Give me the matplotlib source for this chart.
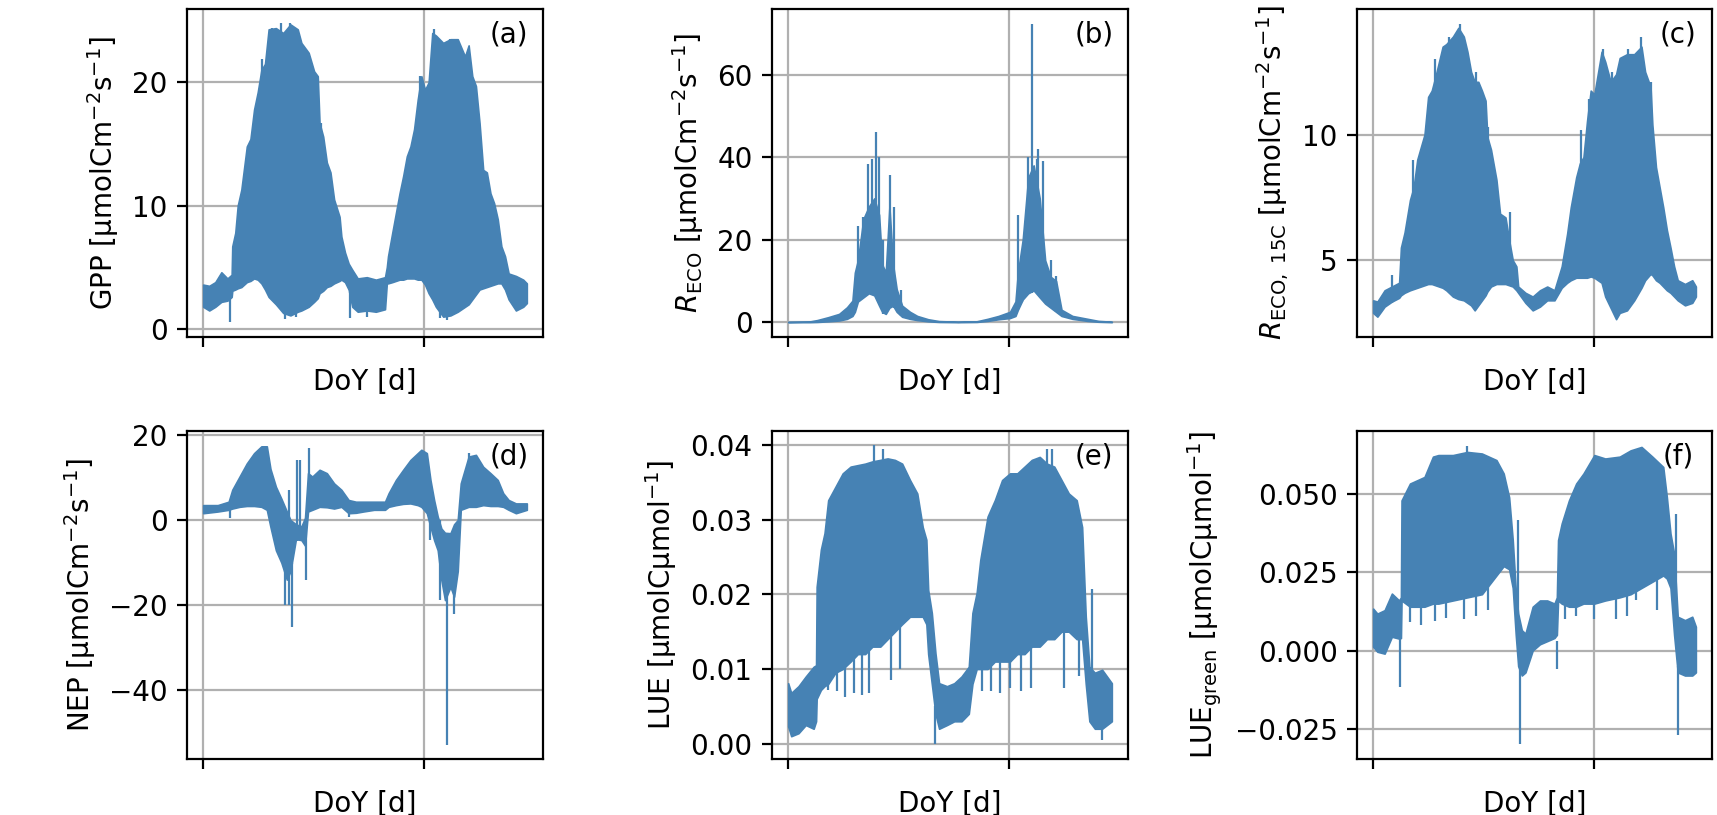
import matplotlib.pyplot as plt

# x axis: days since start of record, ticks one year apart (labels hidden)
xticks = [0, 365]

# (a) GPP: lower / upper envelope of the half-hourly signal
gpp_day = [0, 10, 20, 30, 40, 47, 48, 53, 57, 63, 72, 78, 84, 90, 96, 102, 108, 120, 132, 144,
           156, 162, 174, 183, 189, 192, 198, 204, 210, 216, 225, 228, 234, 240, 246, 255, 270, 285,
           300, 303, 305, 312, 318, 324, 330, 336, 342, 348, 354, 360, 366, 372, 378, 384, 396, 408,
           420, 432, 438, 444, 450, 456, 462, 468, 474, 480, 486, 492, 498, 504, 516, 528, 534]
gpp_lo = [1.8, 1.5, 1.8, 2.2, 2.3, 2.6, 3.1, 3.2, 3.3, 3.4, 3.8, 3.9, 4.1, 4.0, 3.7, 3.2, 2.6, 2.0,
          1.3, 1.1, 1.4, 1.5, 1.8, 2.2, 2.5, 2.9, 3.1, 3.4, 3.5, 3.7, 3.9, 4.0, 3.8, 3.2, 1.8, 1.4,
          1.5, 1.4, 1.6, 3.7, 3.7, 3.8, 3.9, 4.0, 4.0, 4.1, 4.1, 4.1, 4.0, 4.0, 3.6, 2.9, 2.4, 1.8,
          1.0, 1.1, 1.4, 1.8, 2.0, 2.4, 2.8, 3.2, 3.3, 3.4, 3.5, 3.6, 3.7, 3.7, 3.2, 2.4, 1.5, 1.8, 2.1]
gpp_hi = [3.6, 3.5, 3.8, 4.6, 4.1, 4.4, 6.7, 7.8, 10.0, 11.3, 14.8, 15.4, 17.8, 19.2, 21.0, 21.5,
          24.3, 24.4, 24.0, 24.7, 24.3, 23.2, 22.4, 20.9, 20.5, 16.7, 15.6, 13.5, 12.7, 10.5, 9.1,
          7.5, 6.2, 5.3, 4.8, 4.1, 4.2, 4.0, 4.2, 5.0, 5.9, 7.8, 9.4, 11.0, 12.4, 14.0, 14.8, 16.2,
          18.6, 20.5, 19.4, 20.0, 24.0, 23.8, 23.2, 23.5, 23.5, 22.1, 23.0, 20.5, 19.7, 16.7, 12.9,
          12.7, 11.0, 10.2, 8.9, 6.7, 5.9, 4.5, 4.3, 4.0, 3.7]
gpp_spk_day = [45, 97, 113, 129, 135, 144, 153, 181, 194, 243, 270, 357, 381, 390, 402, 408, 462]
gpp_spk_lo = [0.6, 15.0, 18.0, 18.0, 0.8, 20.0, 1.0, 15.0, 12.0, 0.9, 1.0, 15.0, 18.0, 0.9, 0.7,
              18.0, 10.0]
gpp_spk_hi = [3.0, 21.9, 24.4, 24.8, 2.0, 24.85, 2.0, 21.0, 16.7, 3.0, 2.0, 20.5, 24.3, 2.0, 2.0,
              23.5, 12.7]

# (b) R_ECO
reco_day = [0, 35, 48, 66, 84, 97, 106, 110, 115, 124, 133, 142, 150, 155, 161, 167, 173, 179,
            188, 201, 213, 231, 249, 280, 311, 329, 347, 366, 375, 379, 387, 396, 405, 415, 424,
            433, 442, 451, 469, 494, 512, 534]
reco_lo = [0.0, 0.0, 0.05, 0.2, 0.4, 0.8, 1.5, 2.5, 5.0, 6.0, 7.0, 6.5, 4.0, 2.5, 2.0, 3.5, 4.0,
           2.5, 1.3, 0.8, 0.5, 0.2, 0.05, 0.0, 0.05, 0.3, 0.7, 1.0, 1.5, 3.0, 5.5, 7.0, 7.7, 6.0,
           4.5, 3.5, 2.5, 1.5, 0.8, 0.3, 0.1, 0.0]
reco_hi = [0.05, 0.15, 0.5, 1.2, 2.0, 3.6, 5.2, 12.0, 15.0, 25.0, 28.0, 30.0, 26.0, 14.0, 12.0,
           28.0, 14.0, 8.0, 4.0, 2.5, 1.5, 0.7, 0.25, 0.1, 0.2, 0.8, 1.5, 2.5, 5.0, 12.0, 20.0,
           35.0, 38.0, 30.0, 15.0, 11.0, 10.0, 3.0, 1.5, 0.8, 0.3, 0.1]
reco_spk_day = [115, 124, 132, 138, 145, 150, 157, 168, 174, 186,
                380, 385, 396, 402, 410, 413, 421, 433, 442]
reco_spk_lo = [6.0, 6.0, 7.0, 7.0, 7.0, 6.0, 2.0, 3.5, 3.5, 1.5,
               3.0, 5.0, 7.0, 7.0, 7.0, 7.0, 6.0, 3.5, 2.5]
reco_spk_hi = [23.2, 25.4, 38.3, 39.5, 46.2, 40.0, 19.8, 35.7, 27.8, 7.7,
               26.0, 15.0, 40.0, 72.3, 39.5, 42.0, 39.0, 15.0, 11.3]

# (c) R_ECO at 15 C
r15_day = [0, 7, 19, 31, 43, 46, 52, 61, 67, 73, 79, 85, 91, 97, 103, 109, 115, 121, 132, 141,
           150, 156, 162, 168, 174, 180, 186, 189, 195, 204, 210, 219, 225, 231, 237, 240, 252,
           264, 276, 288, 300, 312, 321, 327, 336, 342, 348, 354, 360, 366, 378, 384, 393, 402,
           408, 420, 432, 444, 450, 459, 462, 468, 474, 480, 486, 492, 498, 504, 516, 528, 534]
r15_lo = [2.9, 2.75, 3.15, 3.35, 3.5, 3.6, 3.7, 3.8, 3.85, 3.9, 3.95, 4.0, 4.05, 4.05, 4.0, 3.95,
          3.9, 3.8, 3.55, 3.45, 3.4, 3.3, 3.2, 3.0, 3.2, 3.4, 3.6, 3.75, 3.95, 4.05, 4.05, 4.05,
          4.0, 3.95, 3.8, 3.7, 3.3, 3.0, 3.15, 3.4, 3.4, 3.9, 4.1, 4.2, 4.3, 4.3, 4.3, 4.3, 4.35,
          4.3, 4.1, 3.55, 3.1, 2.65, 2.9, 3.0, 3.4, 3.9, 4.2, 4.45, 4.4, 4.2, 4.1, 3.95, 3.8, 3.7,
          3.55, 3.4, 3.2, 3.3, 3.55]
r15_hi = [3.4, 3.35, 3.8, 3.95, 4.1, 5.5, 6.1, 7.4, 7.9, 9.0, 9.5, 10.0, 11.5, 11.75, 12.3, 12.9,
          13.5, 13.6, 13.9, 14.25, 13.9, 13.3, 12.5, 12.1, 12.1, 11.75, 11.35, 9.9, 9.4, 8.2, 6.85,
          6.7, 5.8, 5.0, 4.75, 3.95, 3.7, 3.55, 3.8, 3.95, 3.8, 4.75, 6.05, 7.1, 8.3, 8.85, 9.1,
          10.55, 11.75, 11.6, 13.3, 12.9, 12.1, 12.4, 13.05, 13.2, 13.2, 13.5, 12.5, 11.9, 10.4,
          8.7, 7.9, 7.1, 6.2, 5.5, 4.75, 4.2, 4.05, 4.2, 3.95]
r15_spk_day = [31, 66, 103, 126, 144, 171, 190, 227, 344, 357, 380, 395, 421, 444, 460]
r15_spk_lo = [3.3, 6.0, 10.0, 11.0, 12.0, 9.0, 7.0, 4.0, 7.0, 8.0, 10.0, 9.0, 11.0, 12.0, 9.0]
r15_spk_hi = [4.4, 9.0, 13.0, 13.9, 14.42, 12.5, 10.3, 6.9, 10.2, 11.4, 13.4, 12.5, 13.4, 13.9, 12.1]

# (d) NEP
nep_day = [0, 24, 42, 48, 60, 72, 84, 96, 105, 111, 120, 129, 138, 144, 153, 162, 168, 173, 180,
           192, 204, 216, 228, 240, 252, 264, 282, 300, 306, 318, 330, 342, 354, 360, 369, 375,
           381, 387, 393, 399, 408, 414, 420, 425, 438, 450, 462, 474, 486, 495, 504, 516, 534]
nep_lo = [1.6, 2.0, 2.4, 2.7, 3.1, 3.3, 3.3, 3.1, 2.4, -1.6, -7.1, -10.0, -14.0, -12.0, -4.5,
          -4.7, -6.0, 2.0, 2.4, 3.1, 3.0, 2.7, 3.1, 1.6, 1.7, 2.0, 2.4, 2.4, 3.1, 3.5, 3.8, 3.9,
          3.5, 3.1, 1.6, -1.6, -4.7, -7.1, -14.1, -18.8, -15.7, -18.0, -12.0, 2.4, 3.1, 3.1, 3.5,
          3.3, 3.3, 3.1, 2.4, 1.6, 2.4]
nep_hi = [3.5, 3.5, 4.3, 7.1, 10.2, 13.3, 15.7, 17.3, 17.3, 12.0, 7.8, 5.0, 2.0, 0.0, -1.0, -1.5,
          0.5, 11.0, 10.2, 11.8, 11.0, 8.6, 7.1, 4.7, 4.3, 4.3, 4.3, 4.3, 6.3, 9.4, 11.8, 14.1,
          15.7, 16.5, 15.7, 9.4, 4.7, 0.8, -2.0, -3.0, -3.1, -1.0, 0.0, 8.6, 14.9, 15.3, 12.5,
          11.0, 9.4, 6.3, 4.7, 3.9, 3.9]
nep_spk_day = [45, 135, 141, 146, 154, 160, 170, 175, 240, 375, 390, 402, 414, 438]
nep_spk_lo = [0.4, -20.0, -20.0, -25.0, -5.0, -5.0, -14.0, 2.0, 0.8, -4.7, -18.8, -52.8, -22.0, 3.0]
nep_spk_hi = [3.0, -5.0, 7.1, -10.0, 14.0, 14.0, 0.0, 16.9, 2.0, 4.0, 0.0, -10.0, -5.0, 15.7]

# (e) LUE
lue_day = [0, 5, 17, 29, 42, 46, 47, 54, 60, 66, 78, 90, 103, 115, 127, 139, 152, 164, 176, 188,
           201, 213, 222, 228, 231, 237, 243, 249, 262, 274, 286, 298, 304, 311, 317, 329, 341,
           353, 366, 378, 390, 402, 415, 427, 439, 451, 463, 476, 485, 491, 497, 506, 518, 534]
lue_lo = [0.0023, 0.0010, 0.0014, 0.0025, 0.0020, 0.0030, 0.0060, 0.0072, 0.0077, 0.0080, 0.0095,
          0.0100, 0.0110, 0.0120, 0.0120, 0.0130, 0.0130, 0.0140, 0.0150, 0.0160, 0.0170, 0.0170,
          0.0170, 0.0160, 0.0120, 0.0080, 0.0040, 0.0020, 0.0025, 0.0030, 0.0030, 0.0040, 0.0080,
          0.0100, 0.0100, 0.0100, 0.0110, 0.0110, 0.0110, 0.0120, 0.0120, 0.0130, 0.0130, 0.0140,
          0.0140, 0.0150, 0.0150, 0.0140, 0.0140, 0.0080, 0.0030, 0.0020, 0.0020, 0.0030]
lue_hi = [0.0081, 0.0068, 0.0077, 0.0090, 0.0103, 0.0105, 0.0210, 0.0260, 0.0282, 0.0326, 0.0344,
          0.0362, 0.0371, 0.0373, 0.0375, 0.0378, 0.0380, 0.0382, 0.0380, 0.0375, 0.0353, 0.0335,
          0.0290, 0.0273, 0.0206, 0.0175, 0.0121, 0.0081, 0.0077, 0.0081, 0.0090, 0.0103, 0.0175,
          0.0202, 0.0246, 0.0304, 0.0326, 0.0353, 0.0362, 0.0362, 0.0371, 0.0380, 0.0384, 0.0375,
          0.0371, 0.0353, 0.0335, 0.0326, 0.0290, 0.0170, 0.0103, 0.0095, 0.0099, 0.0081]
lue_spk_day = [66, 80, 94, 108, 121, 133, 141, 157, 170, 185, 243, 320, 335, 350, 366, 384, 400,
               427, 436, 455, 480, 502, 518]
lue_spk_lo = [0.0072, 0.0070, 0.0063, 0.0068, 0.0065, 0.0068, 0.020, 0.020, 0.0085, 0.0100, 0.0,
              0.0070, 0.0070, 0.0068, 0.0075, 0.0070, 0.0075, 0.030, 0.030, 0.0075, 0.0090, 0.005,
              0.0005]
lue_spk_hi = [0.020, 0.015, 0.015, 0.016, 0.015, 0.016, 0.040, 0.0395, 0.017, 0.018, 0.005,
              0.014, 0.014, 0.015, 0.015, 0.015, 0.016, 0.0395, 0.0395, 0.016, 0.017, 0.0207,
              0.003]

# (f) LUE of green canopy
lueg_day = [0, 7, 19, 31, 43, 46, 47, 61, 85, 99, 108, 132, 156, 180, 204, 216, 225, 231, 236,
            240, 246, 252, 264, 276, 288, 300, 304, 306, 312, 324, 336, 348, 366, 384, 408, 426,
            444, 462, 480, 486, 492, 498, 504, 516, 528, 534]
lueg_lo = [0.0012, -0.0004, -0.0010, 0.0044, 0.0038, 0.0040, 0.0160, 0.0140, 0.0140, 0.0150,
           0.0150, 0.0160, 0.0170, 0.0180, 0.0240, 0.0270, 0.0260, 0.0200, 0.0050, -0.0050,
           -0.0080, -0.0070, 0.0000, 0.0020, 0.0030, 0.0040, 0.0050, 0.0160, 0.0150, 0.0140,
           0.0140, 0.0150, 0.0150, 0.0160, 0.0170, 0.0180, 0.0200, 0.0220, 0.0240, 0.0230,
           0.0200, 0.0050, -0.0070, -0.0080, -0.0080, -0.0070]
lueg_hi = [0.0134, 0.0118, 0.0129, 0.0182, 0.0160, 0.0170, 0.0480, 0.0534, 0.0555, 0.0620,
           0.0625, 0.0625, 0.0635, 0.0630, 0.0609, 0.0566, 0.0490, 0.0353, 0.0193, 0.0118,
           0.0065, 0.0054, 0.0140, 0.0160, 0.0160, 0.0150, 0.0170, 0.0353, 0.0406, 0.0480,
           0.0534, 0.0566, 0.0625, 0.0614, 0.0620, 0.0640, 0.0651, 0.0620, 0.0587, 0.0490,
           0.0374, 0.0310, 0.0108, 0.0097, 0.0108, 0.0076]
lueg_spk_day = [44, 61, 79, 102, 120, 150, 156, 170, 190, 239, 243, 305, 318, 336, 366, 402, 420,
                435, 470, 501, 505]
lueg_spk_lo = [-0.0116, 0.009, 0.008, 0.0095, 0.0105, 0.0100, 0.020, 0.0110, 0.0130, 0.010,
               -0.030, -0.006, 0.010, 0.011, 0.010, 0.010, 0.0110, 0.016, 0.0130, 0.010, -0.027]
lueg_spk_hi = [0.004, 0.020, 0.020, 0.022, 0.022, 0.024, 0.0655, 0.022, 0.024, 0.0417, -0.005,
               0.003, 0.025, 0.025, 0.024, 0.025, 0.025, 0.028, 0.026, 0.0437, -0.005]

unit_flux = " [µmolCm$^{-2}$s$^{-1}$]"
unit_lue = " [µmolCµmol$^{-1}$]"

panels = [
    (gpp_day, gpp_lo, gpp_hi, gpp_spk_day, gpp_spk_lo, gpp_spk_hi,
     "GPP" + unit_flux, [0, 10, 20], (-0.65, 25.95), "(a)"),
    (reco_day, reco_lo, reco_hi, reco_spk_day, reco_spk_lo, reco_spk_hi,
     "$R_\\mathrm{ECO}$" + unit_flux, [0, 20, 40, 60], (-3.6, 75.9), "(b)"),
    (r15_day, r15_lo, r15_hi, r15_spk_day, r15_spk_lo, r15_spk_hi,
     "$R_\\mathrm{ECO,\\ 15C}$" + unit_flux, [5, 10], (1.94, 15.0), "(c)"),
    (nep_day, nep_lo, nep_hi, nep_spk_day, nep_spk_lo, nep_spk_hi,
     "NEP" + unit_flux, [-40, -20, 0, 20], (-56.1, 20.9), "(d)"),
    (lue_day, lue_lo, lue_hi, lue_spk_day, lue_spk_lo, lue_spk_hi,
     "LUE" + unit_lue, [0.0, 0.01, 0.02, 0.03, 0.04], (-0.00205, 0.04187), "(e)"),
    (lueg_day, lueg_lo, lueg_hi, lueg_spk_day, lueg_spk_lo, lueg_spk_hi,
     "LUE$_\\mathrm{green}$" + unit_lue, [-0.025, 0.0, 0.025, 0.05], (-0.0347, 0.0702), "(f)"),
]

# axes boxes in pixels (left, right, top, bottom) of a 1717x815 canvas
W, H = 1717, 815
boxes = [(187, 543, 9, 337), (772, 1128, 9, 337), (1357, 1712, 9, 337),
         (187, 543, 431, 759), (772, 1128, 431, 759), (1357, 1712, 431, 759)]

fig = plt.figure(figsize=(W / 200, H / 200), dpi=200)
col = "steelblue"

for (day, lo, hi, sd, slo, shi, ylab, yt, yl, tag), (l, r, t, b) in zip(panels, boxes):
    ax = fig.add_axes([l / W, 1 - b / H, (r - l) / W, (b - t) / H])
    ax.fill_between(day, lo, hi, color=col, lw=0.6)
    ax.vlines(sd, slo, shi, color=col, lw=0.8)
    ax.set_xlim(-26.7, 560.7)
    ax.set_ylim(yl)
    ax.set_xticks(xticks)
    ax.set_xticklabels([])
    ax.set_yticks(yt)
    ax.grid(True)
    ax.set_axisbelow(True)
    ax.set_xlabel("DoY [d]")
    ax.set_ylabel(ylab)
    ax.text(0.905, 0.923, tag, transform=ax.transAxes, ha="center", va="center")

fig.savefig("out.png", dpi=200)
